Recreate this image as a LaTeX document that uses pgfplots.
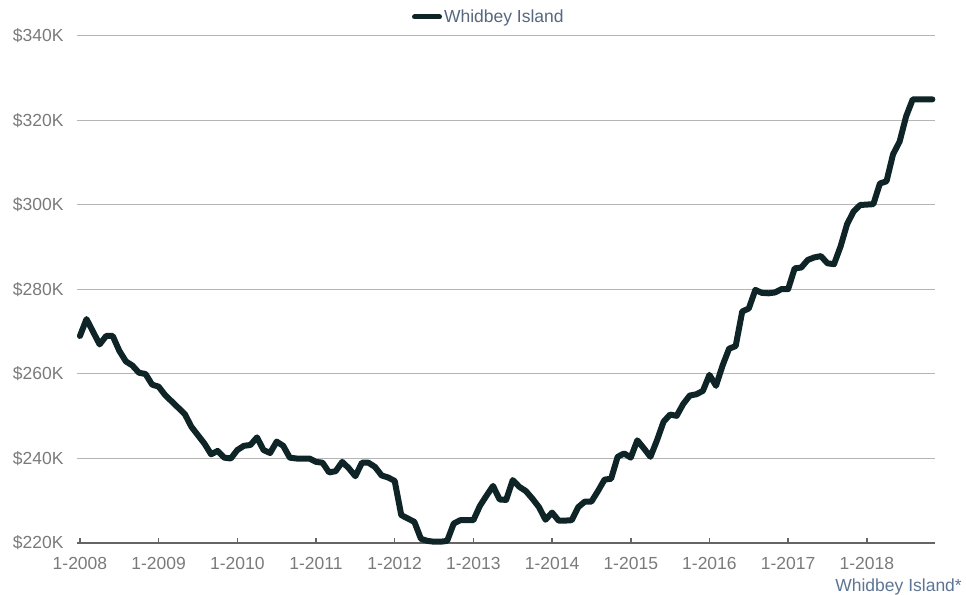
\documentclass[border=0pt]{standalone}
\usepackage{fontspec}
\setmainfont{Liberation Sans}
\usepackage{pgfplots}
\usepackage{pgfplotstable}
\pgfplotsset{compat=1.18}
\definecolor{linec}{HTML}{0E2426}
\definecolor{tickc}{HTML}{7A7A7A}
\definecolor{gridc}{HTML}{B5B5B5}
\definecolor{axc}{HTML}{656565}
\definecolor{legc}{HTML}{56677F}
\definecolor{notec}{HTML}{5D7494}
\pgfplotstableread{
m v
0 269
1 273
2 270
3 267
4 269
5 269
6 265.5
7 263
8 262
9 260.3
10 260
11 257.5
12 257
13 255
14 253.5
15 252
16 250.5
17 247.5
18 245.5
19 243.5
20 241
21 241.8
22 240.2
23 240
24 242
25 243
26 243.2
27 245
28 242
29 241.3
30 244
31 243
32 240.2
33 240
34 240
35 240
36 239.2
37 239
38 236.7
39 237
40 239.2
41 237.7
42 235.8
43 239
44 239
45 238
46 236
47 235.5
48 234.7
49 226.6
50 225.8
51 225
52 221
53 220.5
54 220.3
55 220.3
56 220.5
57 224.6
58 225.4
59 225.4
60 225.4
61 228.8
62 231.2
63 233.5
64 230.3
65 230.2
66 234.9
67 233.3
68 232.3
69 230.5
70 228.5
71 225.5
72 227.2
73 225.3
74 225.3
75 225.4
76 228.5
77 229.8
78 229.8
79 232.3
80 235
81 235.2
82 240.4
83 241.2
84 240.2
85 244.3
86 242.4
87 240.4
88 244.3
89 248.7
90 250.4
91 250.1
92 252.9
93 254.9
94 255.2
95 256
96 259.8
97 257.2
98 262
99 266
100 266.6
101 274.8
102 275.5
103 279.9
104 279.2
105 279.1
106 279.3
107 280.1
108 280.1
109 285
110 285.2
111 287
112 287.6
113 287.9
114 286.2
115 286
116 290.2
117 295.5
118 298.5
119 300
120 300.1
121 300.2
122 305.1
123 305.6
124 312
125 315
126 321
127 325
128 325
129 325
130 325
}\datatable
\begin{document}
\begin{tikzpicture}
\begin{axis}[
  name=ax,
  scale only axis,
  width=858bp, height=507bp,
  xmin=-0.45, xmax=130.4,
  ymin=220, ymax=340,
  clip=false,
  axis x line*=bottom,
  axis y line*=left,
  y axis line style={draw=none},
  x axis line style={draw=axc, line width=2.4bp},
  xtick={0,12,...,120},
  xticklabels={1-2008,1-2009,1-2010,1-2011,1-2012,1-2013,1-2014,1-2015,1-2016,1-2017,1-2018},
  xtick align=inside,
  major tick length=5bp,
  xtick style={draw=axc, line width=1.6bp},
  ytick={220,240,...,340},
  yticklabels={\$220K,\$240K,\$260K,\$280K,\$300K,\$320K,\$340K},
  ymajorgrids,
  ytick style={draw=none},
  grid style={draw=gridc, line width=1bp},
  tick label style={font=\fontsize{17.5bp}{20bp}\selectfont, text=tickc},
  xticklabel style={yshift=-11bp},
  yticklabel style={xshift=-10bp},
  legend style={at={(0.48,1.0375)}, anchor=center, draw=none, fill=none,
    font=\fontsize{17.5bp}{20bp}\selectfont, text=legc,
    legend cell align=left},
  legend image code/.code={\draw[line width=5bp, linec] (0bp,0bp) -- (25bp,0bp);},
]
\addplot[draw=linec, line width=6bp, line join=round, line cap=round] table[x=m, y=v] {\datatable};
\addlegendentry{Whidbey Island}
\end{axis}
\pgfresetboundingbox
\path (ax.south west) ++(-77bp,-52bp) coordinate (bl) rectangle ++(966bp,595bp);
\node[anchor=base east, font=\fontsize{17.5bp}{20bp}\selectfont, text=notec, inner sep=0pt]
  at ([xshift=962bp, yshift=4bp]bl) {Whidbey Island*};
\end{tikzpicture}
\end{document}
